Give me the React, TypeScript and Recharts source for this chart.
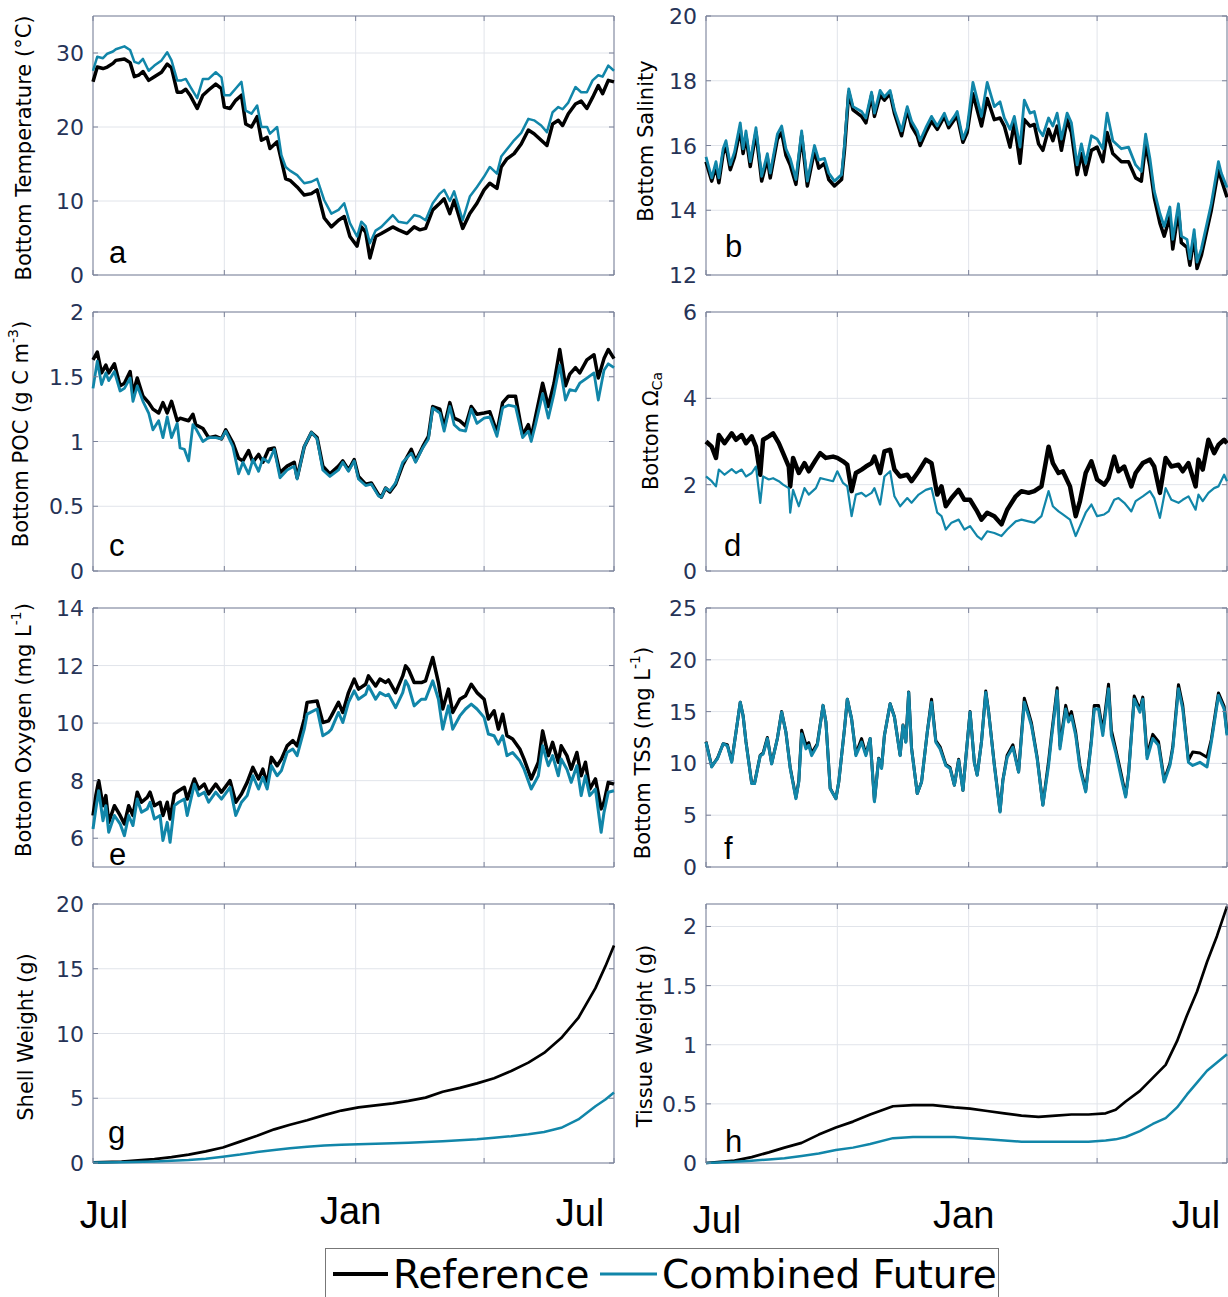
import React from "react"
import { LineChart, Line, XAxis, YAxis, CartesianGrid, ReferenceArea } from "recharts"

const REF_COLOR = "#000000"
const FUT_COLOR = "#1186a9"
const GRID = "#e1e4ea"
const FRAME = "#7b8299"
const TICK_TEXT = "#263357"

// x axis is days since 1 July
const gridDays = [0, 92, 184, 274, 365]
const monthDays = [0, 184, 365]
const monthLabels = ["Jul", "Jan", "Jul"]

// a: bottom temperature
const tempDays = [0,3,7,10,14,16,22,26,29,32,35,39,43,48,52,55,59,62,65,68,73,77,81,86,90,92,96,100,104,107,111,115,118,122,124,129,132,135,138,143,148,153,157,162,167,172,176,180,185,188,191,194,198,202,210,214,220,225,229,233,238,243,246,250,253,259,264,269,274,278,283,286,290,295,300,305,309,314,318,322,326,329,333,338,342,346,350,354,357,361,365]
const tempRef = [26.1,28.1,27.9,28.1,28.6,29.0,29.2,28.7,26.8,27.0,27.5,26.3,26.8,27.4,28.5,28.0,24.7,24.7,25.1,24.3,22.5,24.3,25.0,25.8,25.2,22.7,22.5,23.6,24.3,20.4,20.0,21.4,18.2,18.6,17.1,18.0,15.5,13.0,12.8,11.9,10.8,11.0,11.5,7.7,6.5,7.4,7.9,5.2,3.9,6.5,5.8,2.3,5.2,5.6,6.5,6.1,5.6,6.5,6.1,6.3,8.8,9.7,10.3,8.3,10.1,6.3,8.3,9.7,11.5,12.4,11.7,14.6,15.7,16.4,17.7,19.6,19.1,18.2,17.5,20.4,20.9,20.2,21.8,23.1,23.5,22.5,24.0,25.6,24.5,26.3,26.1]
const tempFut = [27.6,29.5,29.3,29.9,30.2,30.5,30.9,30.4,28.8,28.6,29.2,27.6,28.3,29.0,30.1,29.0,26.3,26.3,26.5,25.5,23.9,26.5,26.5,27.4,26.7,24.3,24.3,25.2,26.1,22.2,21.8,22.9,20.0,20.0,19.1,20.0,16.2,14.6,14.1,13.5,12.4,12.6,13.0,10.1,8.3,8.8,9.7,7.0,5.2,7.2,6.6,4.3,6.0,6.5,8.1,7.2,7.0,8.1,7.9,7.4,9.7,11.0,11.5,10.0,11.3,7.4,10.6,11.9,13.3,14.6,13.7,16.0,17.0,18.2,19.2,21.1,20.9,20.2,19.3,22.0,22.7,22.4,23.3,25.4,24.7,24.7,26.3,27.0,26.8,28.3,27.6]

// b: bottom salinity
const salDays = [0,4,7,9,12,14,17,20,24,26,28,31,35,39,43,45,50,53,56,59,63,67,71,76,79,83,86,90,95,97,100,103,109,112,116,118,122,125,129,132,137,141,144,148,150,154,158,162,167,170,174,176,180,183,187,193,197,202,206,209,213,216,220,223,227,230,233,236,240,243,246,249,253,256,260,263,266,270,274,278,281,285,291,296,301,305,308,311,314,318,321,325,327,331,333,337,339,342,344,347,351,354,359,361,365]
const salRef = [15.5,14.9,15.35,14.85,15.75,16.0,15.25,15.65,16.5,15.75,16.3,15.35,16.4,14.9,15.6,15.0,16.2,16.4,15.7,15.4,14.8,16.3,14.75,15.85,15.3,15.45,14.95,14.75,14.95,15.85,17.65,17.1,16.9,16.7,17.55,16.9,17.55,17.4,17.6,17.0,16.3,17.1,16.6,16.3,16.0,16.4,16.75,16.5,16.9,16.55,16.8,16.9,16.1,16.4,17.6,16.6,17.45,16.8,16.85,16.6,15.95,16.7,15.45,16.8,16.6,16.65,16.05,15.85,16.5,16.15,16.6,15.85,16.8,16.4,15.1,15.75,15.1,15.85,15.95,15.5,16.4,15.75,15.5,15.5,15.0,14.9,16.05,15.35,14.4,13.6,13.2,13.8,12.8,14.0,13.0,12.85,12.3,13.2,12.2,12.6,13.4,14.0,15.25,14.95,14.4]
const salFut = [15.65,15.0,15.5,15.0,15.9,16.15,15.4,15.8,16.7,15.9,16.45,15.5,16.55,15.05,15.75,15.15,16.35,16.6,15.9,15.6,14.95,16.45,14.9,16.0,15.55,15.6,15.15,14.9,15.1,16.0,17.75,17.2,17.05,16.85,17.65,17.0,17.7,17.5,17.7,17.1,16.45,17.2,16.75,16.45,16.15,16.55,16.9,16.6,17.0,16.65,16.9,17.05,16.2,16.55,17.95,16.9,17.95,17.2,17.35,16.85,16.5,16.9,15.95,17.4,17.0,17.05,16.5,16.3,16.85,16.6,17.0,16.2,17.0,16.7,15.4,16.05,15.45,16.3,16.2,15.9,17.0,16.15,15.9,15.95,15.4,15.2,16.35,15.6,14.6,13.9,13.5,14.1,13.1,14.2,13.2,13.1,12.5,13.4,12.4,12.8,13.6,14.2,15.5,15.15,14.7]

// c: bottom POC
const pocDays = [0,3,6,9,11,15,19,22,26,28,31,35,39,42,46,49,52,55,59,61,64,67,70,72,77,81,86,90,93,98,102,105,109,112,116,119,123,127,131,136,141,143,148,153,157,161,166,172,175,179,183,186,191,195,200,202,205,208,212,217,223,226,231,235,238,243,246,250,253,257,261,265,269,274,278,283,287,291,296,301,305,307,310,315,319,323,327,331,334,338,341,346,351,354,358,361,365]
const pocRef = [1.63,1.69,1.53,1.59,1.53,1.6,1.43,1.45,1.54,1.37,1.49,1.35,1.30,1.25,1.22,1.30,1.22,1.31,1.16,1.18,1.17,1.16,1.21,1.13,1.10,1.03,1.04,1.02,1.09,0.99,0.87,0.85,0.93,0.84,0.90,0.84,0.94,0.95,0.76,0.81,0.84,0.72,0.96,1.07,1.03,0.81,0.75,0.81,0.85,0.78,0.86,0.73,0.67,0.68,0.59,0.57,0.64,0.61,0.67,0.82,0.94,0.85,0.96,1.04,1.27,1.25,1.11,1.30,1.18,1.16,1.12,1.27,1.21,1.22,1.23,1.07,1.30,1.35,1.35,1.05,1.13,1.03,1.19,1.45,1.27,1.45,1.71,1.43,1.52,1.57,1.53,1.63,1.67,1.49,1.64,1.71,1.64]
const pocFut = [1.41,1.62,1.44,1.53,1.47,1.54,1.39,1.41,1.49,1.31,1.43,1.31,1.22,1.09,1.16,1.03,1.19,1.03,1.14,0.95,0.94,0.85,1.13,1.10,1.00,1.03,1.03,1.02,1.08,0.96,0.75,0.84,0.75,0.86,0.77,0.87,0.84,0.94,0.72,0.78,0.81,0.71,0.96,1.07,1.02,0.78,0.73,0.78,0.84,0.77,0.85,0.71,0.66,0.67,0.58,0.57,0.64,0.62,0.68,0.84,0.91,0.84,0.95,1.02,1.26,1.22,1.08,1.27,1.13,1.09,1.08,1.25,1.14,1.18,1.19,1.04,1.26,1.28,1.27,1.03,1.08,1.00,1.13,1.37,1.18,1.37,1.59,1.32,1.40,1.39,1.45,1.49,1.53,1.32,1.55,1.60,1.57]

// d: bottom omega calcite
const omegaDays = [0,4,7,9,13,18,21,25,28,32,35,38,40,44,47,51,54,58,59,61,65,69,72,77,80,84,89,92,96,99,102,105,109,112,116,118,122,125,129,132,136,141,144,149,154,158,162,165,168,172,177,181,185,190,193,197,202,207,211,217,221,226,230,235,240,243,247,250,255,259,262,266,270,274,279,282,286,289,293,298,301,306,311,314,318,322,326,331,334,338,343,345,348,352,356,359,363,365]
const omegaRef = [3.0,2.88,2.62,3.15,2.96,3.19,3.04,3.15,2.96,3.12,2.88,2.23,3.04,3.12,3.19,2.96,2.73,2.42,1.96,2.62,2.27,2.5,2.31,2.58,2.73,2.62,2.65,2.62,2.54,2.46,1.85,2.27,2.35,2.42,2.5,2.65,2.27,2.77,2.81,2.35,2.19,2.23,2.08,2.31,2.58,2.5,1.77,1.96,1.5,1.69,1.88,1.65,1.65,1.38,1.19,1.35,1.27,1.08,1.42,1.73,1.85,1.81,1.85,1.96,2.88,2.5,2.27,2.31,1.96,1.27,1.62,2.27,2.54,2.12,2.0,2.15,2.65,2.31,2.42,1.96,2.27,2.5,2.58,2.42,1.81,2.62,2.42,2.46,2.31,2.5,1.96,2.58,2.35,3.04,2.73,2.92,3.04,2.96]
const omegaFut = [2.19,2.08,1.96,2.35,2.23,2.36,2.27,2.35,2.19,2.27,2.42,1.58,2.19,2.12,2.15,2.08,2.0,1.92,1.35,1.88,1.5,1.92,1.77,1.92,2.15,2.12,2.08,2.31,2.04,1.96,1.27,1.77,1.81,1.73,1.81,1.92,1.54,2.19,2.31,1.73,1.5,1.69,1.58,1.77,1.88,1.92,1.35,1.27,0.96,1.12,1.19,0.96,1.04,0.81,0.73,0.92,0.88,0.81,0.96,1.15,1.19,1.15,1.12,1.27,1.85,1.5,1.38,1.31,1.19,0.81,1.04,1.35,1.54,1.27,1.31,1.38,1.65,1.69,1.58,1.38,1.62,1.73,1.85,1.69,1.23,1.92,1.65,1.58,1.65,1.73,1.42,1.77,1.62,1.81,1.92,1.96,2.23,2.08]

// e: bottom oxygen
const oxyDays = [0,2,4,7,9,11,15,19,22,25,28,31,34,38,40,43,47,49,52,54,57,60,64,66,71,74,78,81,86,90,96,100,104,108,112,116,119,122,125,129,132,136,140,143,148,150,157,161,165,167,172,175,179,183,186,191,193,198,201,205,207,212,217,219,221,225,230,233,238,242,245,249,252,257,261,265,269,274,277,281,284,287,290,294,299,302,307,312,315,319,322,326,328,332,335,339,342,345,348,352,356,358,361,365]
const oxyRef = [6.79,7.48,8.0,7.13,7.48,6.55,7.13,6.79,6.5,7.13,6.79,7.6,7.25,7.42,7.6,7.13,7.25,6.79,7.25,6.67,7.54,7.65,7.77,7.36,8.06,7.71,7.88,7.54,7.88,7.6,8.0,7.25,7.54,7.94,8.46,8.06,8.4,7.88,8.81,8.52,8.75,9.21,9.39,9.21,10.14,10.72,10.77,10.02,10.08,10.25,10.72,10.37,11.06,11.53,11.18,11.35,11.64,11.29,11.53,11.41,11.5,11.06,11.64,11.99,11.87,11.41,11.41,11.47,12.28,11.41,10.49,11.18,10.37,10.83,10.95,11.35,11.06,10.83,10.14,10.43,9.79,10.31,9.56,9.45,9.1,8.75,8.06,8.64,9.73,8.87,9.33,8.64,9.21,8.87,8.4,8.98,8.17,8.64,7.71,8.06,7.02,7.25,7.94,7.88]
const oxyFut = [6.32,7.02,7.65,6.61,7.13,6.21,6.79,6.5,6.09,6.79,6.44,7.36,6.9,7.02,7.25,6.67,6.79,5.92,6.55,5.86,7.13,7.25,7.36,6.79,7.88,7.48,7.6,7.25,7.6,7.36,7.77,6.79,7.25,7.48,8.17,7.71,8.12,7.71,8.52,8.17,8.35,8.98,9.1,8.87,9.79,10.31,10.49,9.56,9.68,9.79,10.37,10.02,10.72,11.12,10.83,11.0,11.29,10.83,11.06,10.95,11.0,10.54,11.06,11.47,11.29,10.6,10.83,10.83,11.47,10.83,9.79,10.6,9.79,10.25,10.49,10.66,10.49,10.2,9.62,9.56,9.27,9.56,8.87,8.98,8.69,8.4,7.71,8.17,9.21,8.52,8.87,8.17,8.75,8.4,7.94,8.52,7.48,8.17,7.48,7.71,6.21,6.9,7.6,7.65]

// f: bottom TSS
const tssDays = [0,4,6,8,12,15,18,21,24,26,28,32,34,38,40,43,46,50,53,56,59,63,65,67,70,72,74,78,82,84,87,91,93,97,99,102,105,109,112,115,118,121,123,125,129,132,136,138,140,142,144,148,151,155,158,161,164,168,171,174,177,180,182,185,188,190,193,196,198,202,206,208,211,215,219,223,226,228,232,236,240,242,246,248,252,254,256,259,262,266,270,272,275,278,282,284,287,291,294,296,300,304,306,309,313,317,321,325,327,331,334,338,341,346,351,354,359,363,365]
const tssRef = [12.1,9.7,10.1,10.5,11.9,11.8,10.2,13.0,15.9,14.6,12.1,8.1,8.1,10.8,11.0,12.5,10.0,12.4,15.0,13.0,9.6,6.7,8.3,13.2,11.8,12.0,11.0,11.9,15.6,14.0,7.6,6.6,8.2,13.3,16.2,14.3,10.9,12.4,10.9,12.4,6.4,10.5,9.6,12.7,15.75,14.5,10.8,13.7,12.1,16.9,11.5,7.1,8.2,13.0,16.2,12.2,11.6,9.9,9.6,7.9,10.4,7.4,10.5,15.0,10.1,8.9,12.1,17.0,15.0,9.9,5.4,8.4,10.8,11.8,9.2,16.3,14.9,13.9,10.6,6.0,10.2,12.7,17.3,11.7,15.6,14.4,15.0,13.0,9.8,7.4,12.3,15.6,15.6,13.1,17.65,13.2,11.4,8.9,6.9,9.0,16.5,15.2,16.4,10.8,12.8,12.1,8.4,10.0,11.6,17.6,15.6,10.3,11.1,11.0,10.6,12.3,16.8,15.5,12.9]
const tssFut = [12.05,9.65,10.1,10.45,11.9,11.7,10.1,13.0,15.9,14.6,12.05,8.05,8.05,10.75,10.9,12.4,9.95,12.4,14.95,13.0,9.5,6.6,8.2,12.85,11.4,11.75,10.75,11.75,15.6,14.0,7.55,6.6,8.2,13.3,16.2,14.3,10.75,12.05,10.75,12.4,6.3,10.45,9.5,12.7,15.75,14.45,10.75,13.65,12.05,16.85,11.4,7.1,8.2,13.0,15.9,12.05,11.4,9.8,9.5,7.9,10.3,7.4,10.45,14.95,10.1,8.85,12.05,16.85,14.95,9.8,5.3,8.35,10.6,11.55,9.15,15.9,14.6,13.65,10.45,5.95,9.8,12.4,17.0,11.4,15.25,14.0,14.6,12.7,9.5,7.25,12.05,15.25,15.25,12.7,17.2,12.7,11.1,8.55,6.75,8.85,16.2,14.95,16.2,10.45,12.4,11.75,8.2,9.8,11.4,17.2,15.25,10.1,9.8,10.1,9.65,12.05,16.55,15.25,12.7]

// g: shell weight
const shellDays = [0,20,43,55,67,79,91,103,115,127,138,150,162,174,186,198,210,221,233,245,257,269,281,293,305,316,328,340,352,359,365]
const shellRef = [0.05,0.1,0.3,0.45,0.65,0.9,1.2,1.65,2.1,2.6,2.95,3.3,3.7,4.05,4.3,4.45,4.6,4.8,5.05,5.5,5.8,6.15,6.55,7.1,7.75,8.5,9.65,11.2,13.5,15.2,16.8]
const shellFut = [0.03,0.05,0.12,0.17,0.23,0.33,0.48,0.65,0.85,1.0,1.13,1.26,1.36,1.41,1.45,1.48,1.52,1.56,1.62,1.68,1.75,1.83,1.95,2.07,2.22,2.4,2.72,3.36,4.38,4.9,5.45]

// h: tissue weight
const tissueDays = [0,20,32,44,55,67,79,91,103,115,131,145,159,174,185,197,209,221,233,245,256,268,280,287,294,304,313,322,330,337,344,351,358,365]
const tissueRef = [0,0.02,0.05,0.09,0.13,0.17,0.24,0.3,0.35,0.41,0.48,0.49,0.49,0.47,0.46,0.44,0.42,0.4,0.39,0.4,0.41,0.41,0.42,0.45,0.52,0.61,0.72,0.83,1.03,1.25,1.45,1.7,1.92,2.17]
const tissueFut = [0,0.01,0.02,0.03,0.04,0.06,0.08,0.11,0.13,0.16,0.21,0.22,0.22,0.22,0.21,0.2,0.19,0.18,0.18,0.18,0.18,0.18,0.19,0.2,0.22,0.27,0.33,0.38,0.47,0.58,0.68,0.78,0.85,0.92]

const rows = (days: number[], ref: number[], fut: number[]) =>
  days.map((day, i) => ({ day, ref: ref[i], fut: fut[i] }))

// layout
const rowTops = [16, 312, 608, 904]
const PH = 259
const PW = 521
const plotLefts = [93, 706]
const wrapLefts = [0, 620]
const wrapWidths = [620, 608]
const MT = 14
const MB = 14
const YW = 60

type PanelDef = {
  days: number[]
  ref: number[]
  fut: number[]
  domain: [number, number]
  ticks: number[]
  col: number
  row: number
  refW: number
  futW: number
}

const panels: PanelDef[] = [
  { days: tempDays, ref: tempRef, fut: tempFut, domain: [0, 35], ticks: [0, 10, 20, 30], col: 0, row: 0, refW: 3.5, futW: 2.5 },
  { days: salDays, ref: salRef, fut: salFut, domain: [12, 20], ticks: [12, 14, 16, 18, 20], col: 1, row: 0, refW: 3.5, futW: 2.8 },
  { days: pocDays, ref: pocRef, fut: pocFut, domain: [0, 2], ticks: [0, 0.5, 1, 1.5, 2], col: 0, row: 1, refW: 3.5, futW: 2.8 },
  { days: omegaDays, ref: omegaRef, fut: omegaFut, domain: [0, 6], ticks: [0, 2, 4, 6], col: 1, row: 1, refW: 4.5, futW: 2.2 },
  { days: oxyDays, ref: oxyRef, fut: oxyFut, domain: [5, 14], ticks: [6, 8, 10, 12, 14], col: 0, row: 2, refW: 3.5, futW: 3 },
  { days: tssDays, ref: tssRef, fut: tssFut, domain: [0, 25], ticks: [0, 5, 10, 15, 20, 25], col: 1, row: 2, refW: 3, futW: 3 },
  { days: shellDays, ref: shellRef, fut: shellFut, domain: [0, 20], ticks: [0, 5, 10, 15, 20], col: 0, row: 3, refW: 2.7, futW: 2.5 },
  { days: tissueDays, ref: tissueRef, fut: tissueFut, domain: [0, 2.19], ticks: [0, 0.5, 1, 1.5, 2], col: 1, row: 3, refW: 2.7, futW: 2.5 },
]

function Panel({ p }: { p: PanelDef }) {
  const bottomRow = p.row === 3
  const xh = bottomRow ? 80 : 4
  const left = wrapLefts[p.col]
  const width = wrapWidths[p.col]
  const plotL = plotLefts[p.col] - left
  const plotR = plotL + PW
  const top = MT
  const bottom = MT + PH
  const height = MT + PH + xh + MB
  const mdx = p.col === 0 ? [11, -5, -34] : [11, -5, -31]
  const mdy = p.col === 0 ? [65, 61, 63] : [70, 65, 65]

  const xTick = (t: any) => {
    const i = monthDays.indexOf(t.payload.value)
    return (
      <g>
        <line x1={t.x} x2={t.x} y1={bottom} y2={bottom - 5} stroke={FRAME} />
        <line x1={t.x} x2={t.x} y1={top} y2={top + 5} stroke={FRAME} />
        {bottomRow && i >= 0 && (
          <text x={t.x + mdx[i]} y={bottom + mdy[i]} textAnchor="middle" fontFamily="Liberation Sans, Arial" fontSize={38} fill="#000">
            {monthLabels[i]}
          </text>
        )}
      </g>
    )
  }

  const yTick = (t: any) => (
    <g>
      <line x1={plotL} x2={plotL + 5} y1={t.y} y2={t.y} stroke={FRAME} />
      <line x1={plotR - 5} x2={plotR} y1={t.y} y2={t.y} stroke={FRAME} />
      <text x={plotL - 9} y={t.y + 8} textAnchor="end" fontFamily="DejaVu Sans" fontSize={22} fill={TICK_TEXT}>
        {String(t.payload.value)}
      </text>
    </g>
  )

  return (
    <div style={{ position: "absolute", left, top: rowTops[p.row] - MT, width, height }}>
      <LineChart
        width={width}
        height={height}
        data={rows(p.days, p.ref, p.fut)}
        margin={{ top: MT, right: width - plotR, bottom: MB, left: plotL - YW }}
      >
        <CartesianGrid stroke={GRID} />
        <XAxis dataKey="day" type="number" domain={[0, 365]} ticks={gridDays} interval={0} height={xh} axisLine={false} tickLine={false} tick={xTick} />
        <YAxis type="number" domain={p.domain} ticks={p.ticks} interval={0} width={YW} axisLine={false} tickLine={false} tick={yTick} />
        <ReferenceArea x1={0} x2={365} y1={p.domain[0]} y2={p.domain[1]} fill="none" stroke={FRAME} strokeWidth={1} />
        <Line type="linear" dataKey="ref" stroke={REF_COLOR} strokeWidth={p.refW} dot={false} isAnimationActive={false} strokeLinejoin="round" />
        <Line type="linear" dataKey="fut" stroke={FUT_COLOR} strokeWidth={p.futW} dot={false} isAnimationActive={false} strokeLinejoin="round" />
      </LineChart>
    </div>
  )
}

const yLab = (x: number, y: number, content: React.ReactNode, key: string) => (
  <text key={key} x={x} y={y} transform={`rotate(-90 ${x} ${y})`} textAnchor="middle" dominantBaseline="central" fontFamily="DejaVu Sans" fontSize={21} fill="#000">
    {content}
  </text>
)

const letter = (x: number, y: number, s: string) => (
  <text key={s} x={x} y={y} fontFamily="Liberation Sans, Arial" fontSize={31} fill="#000">
    {s}
  </text>
)

export default function App() {
  return (
    <div style={{ position: "absolute", left: 0, top: 0, width: 1228, height: 1297, background: "#fff", overflow: "hidden" }}>
      {panels.map((p, i) => (
        <Panel key={i} p={p} />
      ))}
      <svg width={1228} height={1297} style={{ position: "absolute", left: 0, top: 0, pointerEvents: "none" }}>
        {yLab(24, 148, "Bottom Temperature (°C)", "a")}
        {yLab(646, 141, "Bottom Salinity", "b")}
        {yLab(21, 434, <>Bottom POC (g C m<tspan dy={-8} fontSize={14}>-3</tspan><tspan dy={8}>)</tspan></>, "c")}
        {yLab(651, 431, <>Bottom Ω<tspan dy={6} fontSize={14}>Ca</tspan></>, "d")}
        {yLab(24, 730, <>Bottom Oxygen (mg L<tspan dy={-8} fontSize={14}>-1</tspan><tspan dy={8}>)</tspan></>, "e")}
        {yLab(643, 753, <>Bottom TSS (mg L<tspan dy={-8} fontSize={14}>-1</tspan><tspan dy={8}>)</tspan></>, "f")}
        {yLab(26, 1037, "Shell Weight (g)", "g")}
        {yLab(645, 1036, "Tissue Weight (g)", "h")}

        {letter(109, 263, "a")}
        {letter(725, 257, "b")}
        {letter(109, 556, "c")}
        {letter(724, 556, "d")}
        {letter(109, 865, "e")}
        {letter(724, 859, "f")}
        {letter(108, 1143, "g")}
        {letter(725, 1152, "h")}

        <rect x={325.5} y={1248.5} width={673} height={70} fill="#fff" stroke="#777" />
        <line x1={333} x2={388} y1={1274} y2={1274} stroke={REF_COLOR} strokeWidth={4} />
        <text x={393} y={1288} fontFamily="DejaVu Sans" fontSize={39} fill="#000">Reference</text>
        <line x1={600} x2={657} y1={1274} y2={1274} stroke={FUT_COLOR} strokeWidth={3} />
        <text x={662} y={1288} fontFamily="DejaVu Sans" fontSize={39} fill="#000">Combined Future</text>
      </svg>
    </div>
  )
}
